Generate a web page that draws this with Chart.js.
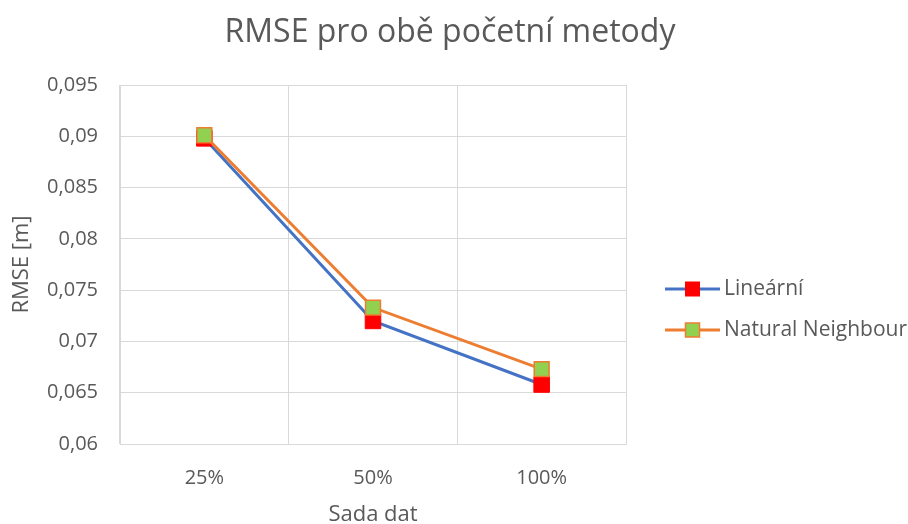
<!DOCTYPE html>
<html>
<head>
<meta charset="utf-8">
<script src="https://cdn.jsdelivr.net/npm/chart.js@4/dist/chart.umd.min.js"></script>
<style>
  html, body { margin: 0; padding: 0; background: #fff; }
  #wrap { width: 908px; height: 524px; }
</style>
</head>
<body>
<div id="wrap"><canvas id="c" width="908" height="524"></canvas></div>
<script>
// RMSE per dataset size for both computation methods
const chartTitle = 'RMSE pro obě početní metody';
const categories = ['25%', '50%', '100%'];
const linearni = [0.0898, 0.0720, 0.0658];
const naturalNeighbour = [0.0901, 0.0733, 0.0673];
const yTickValues = [0.06, 0.065, 0.07, 0.075, 0.08, 0.085, 0.09, 0.095];
const yTickLabels = ['0,06', '0,065', '0,07', '0,075', '0,08', '0,085', '0,09', '0,095'];

const FONT = '"Open Sans", "Segoe UI", sans-serif';
const TEXT = '#595959';
const GRID = '#D9D9D9';

// Title centred across the whole canvas (the plot itself leaves room for the legend)
const centredTitle = {
  id: 'centredTitle',
  afterDraw(chart) {
    const ctx = chart.ctx;
    ctx.save();
    ctx.fillStyle = TEXT;
    ctx.font = '32px ' + FONT;
    ctx.textAlign = 'center';
    ctx.textBaseline = 'middle';
    ctx.fillText(chartTitle, 450, 33);
    ctx.restore();
  }
};

// Legend on the right: a short line segment with the series marker in the middle
const lineLegend = {
  id: 'lineLegend',
  afterDraw(chart) {
    const ctx = chart.ctx;
    const ys = [289, 330];
    const x0 = 665, x1 = 720;
    ctx.save();
    chart.data.datasets.forEach((ds, i) => {
      const y = ys[i];
      ctx.strokeStyle = ds.borderColor;
      ctx.lineWidth = ds.borderWidth;
      ctx.beginPath();
      ctx.moveTo(x0, y);
      ctx.lineTo(x1, y);
      ctx.stroke();
      const s = 14;
      const cx = (x0 + x1) / 2;
      ctx.fillStyle = ds.pointBackgroundColor;
      ctx.fillRect(cx - s / 2, y - s / 2, s, s);
      ctx.strokeStyle = ds.pointBorderColor;
      ctx.lineWidth = ds.pointBorderWidth;
      ctx.strokeRect(cx - s / 2, y - s / 2, s, s);
      ctx.fillStyle = TEXT;
      ctx.font = '21px ' + FONT;
      ctx.textBaseline = 'middle';
      ctx.textAlign = 'left';
      ctx.fillText(ds.label, x1 + 4, y);
    });
    ctx.restore();
  }
};

new Chart(document.getElementById('c'), {
  type: 'line',
  data: {
    labels: categories,
    datasets: [
      {
        label: 'Lineární',
        data: linearni,
        order: 1,
        borderColor: '#4472C4',
        borderWidth: 3,
        pointStyle: 'rect',
        pointRadius: 11,
        pointHoverRadius: 11,
        pointBackgroundColor: '#FF0000',
        pointBorderColor: '#FF0000',
        pointBorderWidth: 1,
        tension: 0
      },
      {
        label: 'Natural Neighbour',
        data: naturalNeighbour,
        order: 0,
        borderColor: '#ED7D31',
        borderWidth: 3,
        pointStyle: 'rect',
        pointRadius: 10.5,
        pointHoverRadius: 10.5,
        pointBackgroundColor: '#92D050',
        pointBorderColor: '#ED7D31',
        pointBorderWidth: 1.5,
        tension: 0
      }
    ]
  },
  options: {
    responsive: false,
    animation: false,
    layout: { padding: { left: 0, right: 282, top: 85, bottom: 0 } },
    plugins: {
      legend: { display: false },
      tooltip: { enabled: false },
      title: { display: false }
    },
    scales: {
      x: {
        offset: true,
        grid: { offset: true, color: GRID, lineWidth: 1, drawTicks: false },
        border: { color: GRID },
        ticks: { color: TEXT, font: { family: FONT, size: 20 }, padding: 22 },
        title: {
          display: true,
          text: 'Sada dat',
          color: TEXT,
          font: { family: FONT, size: 22, lineHeight: 1 },
          padding: { top: 0, bottom: -2 }
        },
        afterFit(scale) { scale.height = 80; }
      },
      y: {
        min: 0.06,
        max: 0.095,
        afterBuildTicks(scale) {
          scale.ticks = yTickValues.map(v => ({ value: v }));
        },
        grid: { color: GRID, lineWidth: 1, drawTicks: false },
        border: { color: GRID },
        ticks: {
          color: TEXT,
          font: { family: FONT, size: 20 },
          padding: 22,
          callback(value) {
            const i = yTickValues.findIndex(v => Math.abs(v - value) < 1e-9);
            return i >= 0 ? yTickLabels[i] : '';
          }
        },
        title: {
          display: true,
          text: 'RMSE [m]',
          color: TEXT,
          font: { family: FONT, size: 22 },
          padding: { top: 9, bottom: 0 }
        },
        afterFit(scale) { scale.width = 120; }
      }
    }
  },
  plugins: [centredTitle, lineLegend]
});
</script>
</body>
</html>
